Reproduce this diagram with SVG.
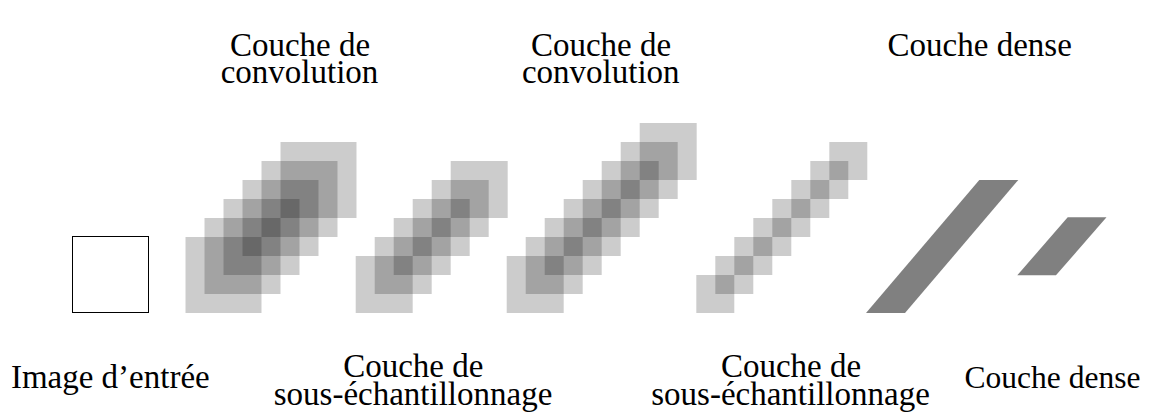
<svg xmlns="http://www.w3.org/2000/svg" width="1154" height="420" viewBox="0 0 1154 420">
<style>
text{font-family:"Liberation Serif","Times New Roman",serif;font-size:33px;fill:#000;text-anchor:middle}
.sq{fill:#000;fill-opacity:0.2}
.dense{fill:#808080}
.inp{fill:none;stroke:#000;stroke-width:1}
</style>
<rect width="1154" height="420" fill="#fff"/>
<g id="input">
<rect class="inp" x="72.5" y="236.5" width="76" height="76"/>
<text x="110.3" y="388.3">Image d’entrée</text>
</g>
<g id="conv1">
<rect class="sq" x="185.5" y="237" width="76" height="76"/>
<rect class="sq" x="204.5" y="218" width="76" height="76"/>
<rect class="sq" x="223.5" y="199" width="76" height="76"/>
<rect class="sq" x="242.5" y="180" width="76" height="76"/>
<rect class="sq" x="261.5" y="161" width="76" height="76"/>
<rect class="sq" x="280.5" y="142" width="76" height="76"/>
<text x="300" y="56">Couche de</text>
<text x="299.5" y="82.5">convolution</text>
</g>
<g id="pool1">
<rect class="sq" x="355.7" y="256" width="57" height="57"/>
<rect class="sq" x="374.7" y="237" width="57" height="57"/>
<rect class="sq" x="393.7" y="218" width="57" height="57"/>
<rect class="sq" x="412.7" y="199" width="57" height="57"/>
<rect class="sq" x="431.7" y="180" width="57" height="57"/>
<rect class="sq" x="450.7" y="161" width="57" height="57"/>
<text x="413.3" y="377">Couche de</text>
<text x="413" y="405">sous-échantillonnage</text>
</g>
<g id="conv2">
<rect class="sq" x="506.7" y="256" width="57" height="57"/>
<rect class="sq" x="525.7" y="237" width="57" height="57"/>
<rect class="sq" x="544.7" y="218" width="57" height="57"/>
<rect class="sq" x="563.7" y="199" width="57" height="57"/>
<rect class="sq" x="582.7" y="180" width="57" height="57"/>
<rect class="sq" x="601.7" y="161" width="57" height="57"/>
<rect class="sq" x="620.7" y="142" width="57" height="57"/>
<rect class="sq" x="639.7" y="123" width="57" height="57"/>
<text x="601" y="56">Couche de</text>
<text x="600.8" y="82.5">convolution</text>
</g>
<g id="pool2">
<rect class="sq" x="696.3" y="275" width="38" height="38"/>
<rect class="sq" x="715.3" y="256" width="38" height="38"/>
<rect class="sq" x="734.3" y="237" width="38" height="38"/>
<rect class="sq" x="753.3" y="218" width="38" height="38"/>
<rect class="sq" x="772.3" y="199" width="38" height="38"/>
<rect class="sq" x="791.3" y="180" width="38" height="38"/>
<rect class="sq" x="810.3" y="161" width="38" height="38"/>
<rect class="sq" x="829.3" y="142" width="38" height="38"/>
<text x="791" y="377">Couche de</text>
<text x="790.5" y="405">sous-échantillonnage</text>
</g>
<g id="dense1">
<polygon class="dense" points="866,313 905,313 1018.3,180 979.3,180"/>
<text x="979.7" y="56">Couche dense</text>
</g>
<g id="dense2">
<polygon class="dense" points="1017.3,275.3 1056,275.3 1106.5,217.3 1067.7,217.3"/>
<text x="1052.5" y="388.3" style="font-size:31.5px">Couche dense</text>
</g>
<g id="connectors"/>
</svg>
